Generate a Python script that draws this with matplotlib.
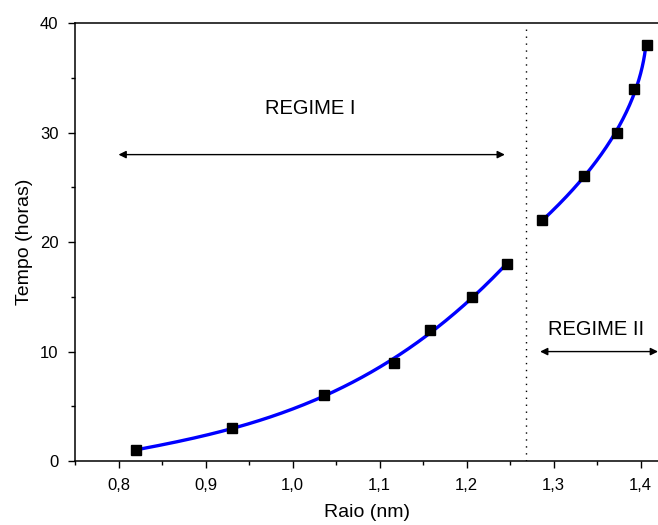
"""
Tempo x raio: two growth regimes, points plus fitted curves.
"""
import numpy as np
import matplotlib
matplotlib.use("Agg")
import matplotlib.pyplot as plt
from matplotlib.ticker import MultipleLocator, FixedLocator

plt.rcParams['font.family'] = ['Liberation Sans', 'DejaVu Sans']

# data
raio_1 = [0.820, 0.930, 1.036, 1.117, 1.158, 1.206, 1.247]
tempo_1 = [1, 3, 6, 9, 12, 15, 18]
raio_2 = [1.287, 1.335, 1.373, 1.392, 1.407]
tempo_2 = [22, 26, 30, 34, 38]

x_ticks = [0.8, 0.9, 1.0, 1.1, 1.2, 1.3, 1.4]
x_ticklabels = ["0,8", "0,9", "1,0", "1,1", "1,2", "1,3", "1,4"]
y_ticks = [0, 10, 20, 30, 40]

regime_limit = 1.268
regime_1_span = [0.80, 1.244]
regime_2_span = [1.2845, 1.42]


def fit_t_of_r(r, t, deg=3, n=200):
    """time as a polynomial of radius"""
    coef = np.polyfit(r, t, deg)
    rs = np.linspace(min(r), max(r), n)
    return rs, np.polyval(coef, rs)


def fit_r_of_t(r, t, deg=2, n=200):
    """radius as a polynomial of time (for the steep branch)"""
    coef = np.polyfit(t, r, deg)
    ts = np.linspace(min(t), max(t), n)
    return np.polyval(coef, ts), ts


fig = plt.figure(figsize=(6.58, 5.25), dpi=100)
ax = fig.add_axes([75/658, 64/525, 1 - 75/658, (461 - 23.3)/525])

# fitted curves
xs, ys = fit_t_of_r(raio_1, tempo_1)
ax.plot(xs, ys, color='#0000ff', lw=2.4, zorder=2)
xs, ys = fit_r_of_t(raio_2, tempo_2)
ax.plot(xs, ys, color='#0000ff', lw=2.4, zorder=2)

# data points
ax.plot(raio_1 + raio_2, tempo_1 + tempo_2, 's', color='black',
        ms=7.5, zorder=3)

# regime boundary
ax.plot([regime_limit, regime_limit], [0, 39.5], color='black', lw=1,
        linestyle=(0, (1, 4)), zorder=1)

# regime arrows and labels
arrow = dict(arrowstyle='<|-|>', color='black', lw=1, mutation_scale=11,
             shrinkA=0, shrinkB=0)
ax.annotate("", xy=(regime_1_span[1], 28), xytext=(regime_1_span[0], 28),
            arrowprops=arrow)
ax.text(1.02, 32.2, "REGIME I", ha='center', va='center', fontsize=14.5)
ax.annotate("", xy=(regime_2_span[1], 10), xytext=(regime_2_span[0], 10),
            arrowprops=arrow, annotation_clip=False)
ax.text(1.349, 12, "REGIME II", ha='center', va='center', fontsize=14.5)

# axes decoration
ax.set_xlim(0.75, 1.42)
ax.set_ylim(0, 40)
ax.xaxis.set_major_locator(FixedLocator(x_ticks))
ax.set_xticklabels(x_ticklabels)
ax.xaxis.set_minor_locator(MultipleLocator(0.05))
ax.set_yticks(y_ticks)
ax.yaxis.set_minor_locator(MultipleLocator(5))
ax.tick_params(which='major', direction='out', length=5, width=1,
               labelsize=12, top=False, right=False)
ax.tick_params(axis='x', which='major', pad=7)
ax.tick_params(axis='y', which='major', pad=7)
ax.tick_params(which='minor', direction='out', length=3, width=1,
               top=False, right=False)
ax.spines['right'].set_visible(False)
for s in ['left', 'bottom', 'top']:
    ax.spines[s].set_linewidth(1.1)

ax.set_xlabel("Raio (nm)", fontsize=14, labelpad=8)
ax.set_ylabel("Tempo (horas)", fontsize=14, labelpad=5)

fig.savefig("out.png", dpi=100)
plt.close()
